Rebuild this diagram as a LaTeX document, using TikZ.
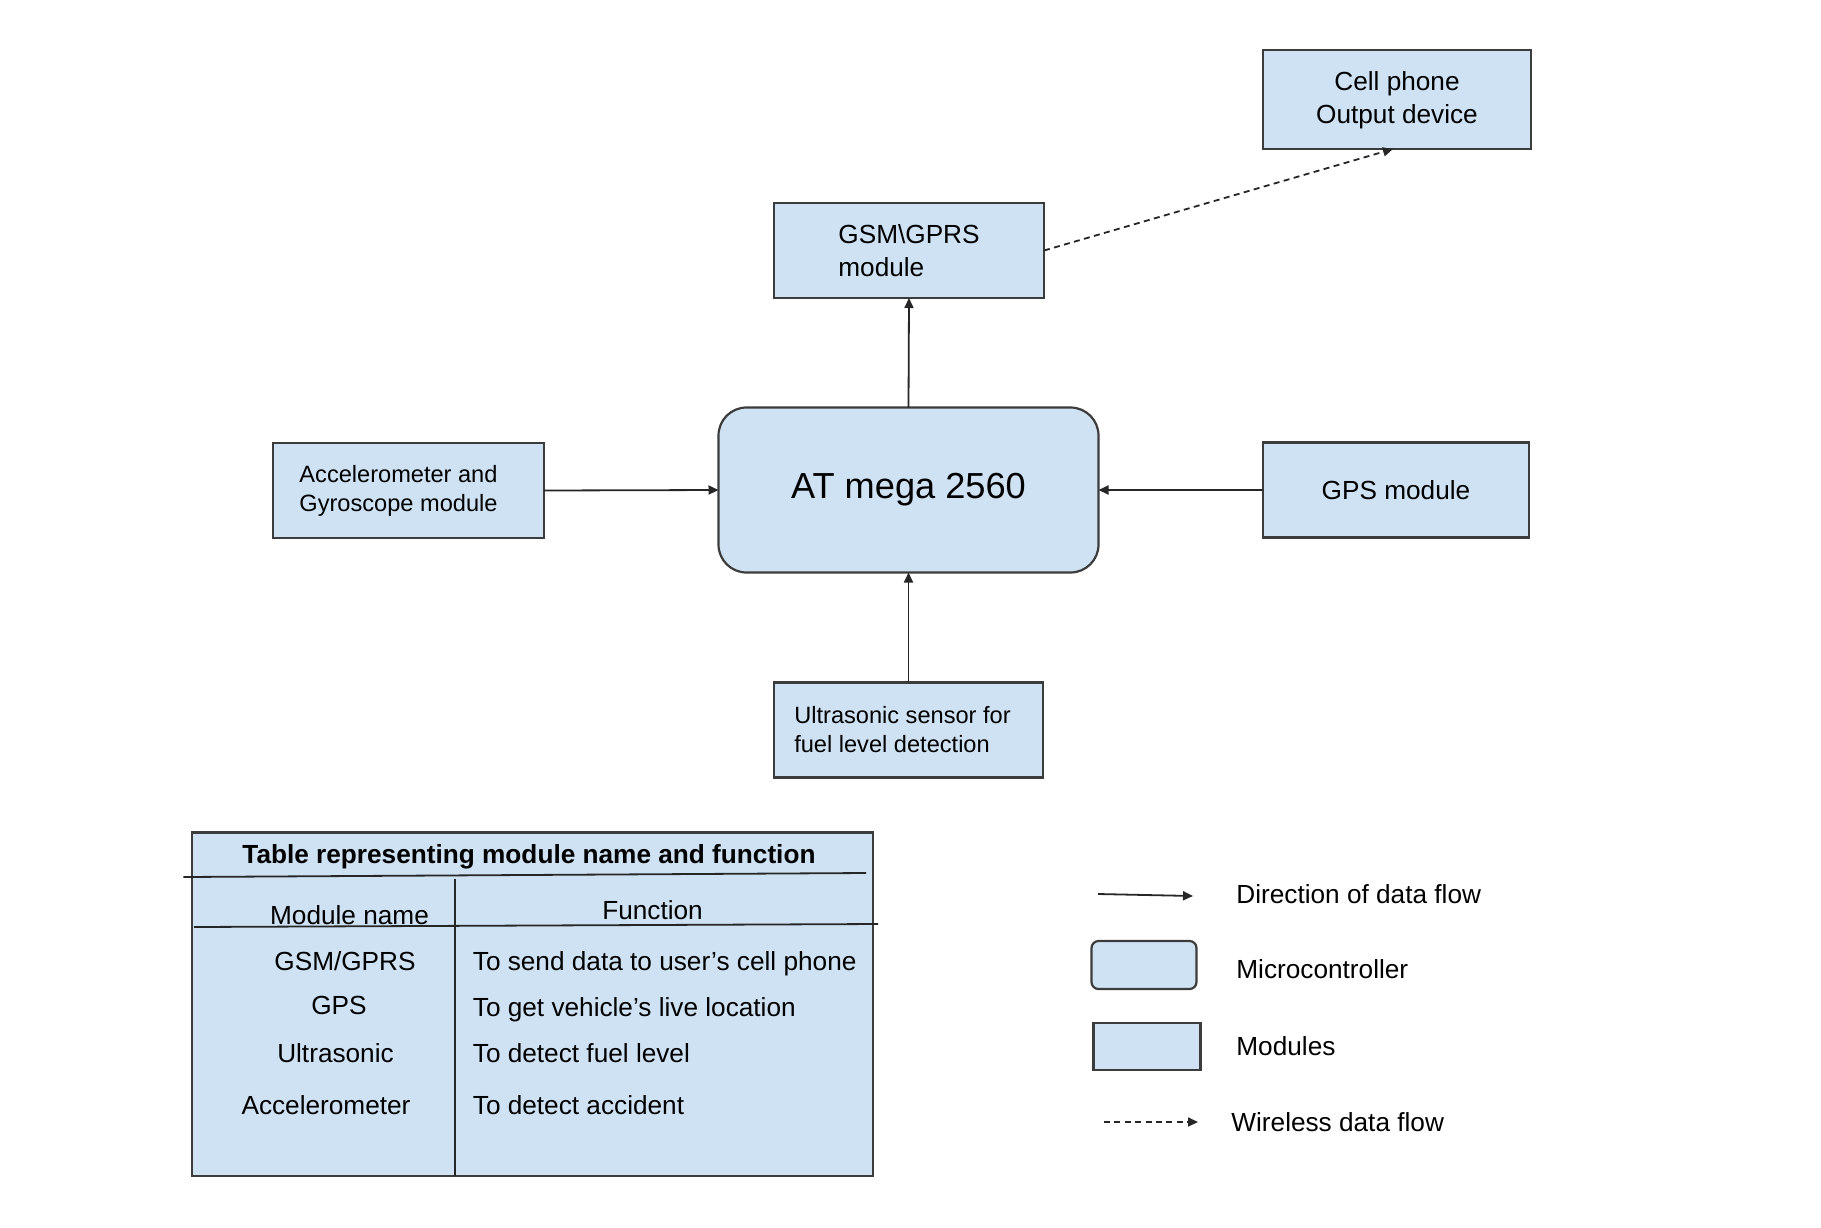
\documentclass[tikz,border=0pt]{standalone}
\usepackage{fontspec}
\setmainfont{Liberation Sans}
\usetikzlibrary{arrows.meta}
\definecolor{boxfill}{RGB}{207,226,243}
\definecolor{boxline}{RGB}{60,60,60}
\begin{document}
\begin{tikzpicture}[x=0.5pt,y=-0.5pt,
  modbox/.style={draw=boxline,fill=boxfill,line width=1.1pt,inner sep=0pt,outer sep=0pt,align=left,
    font=\fontsize{13.1}{16.5}\selectfont},
  smallbox/.style={modbox,font=\fontsize{11.8}{14.5}\selectfont},
  mcubox/.style={modbox,rounded corners=14pt,align=center,font=\fontsize{18.1}{22}\selectfont},
  flow/.style={draw=black!85,line width=0.9pt,-{Triangle[length=5pt,width=4.5pt]}},
  wireless/.style={draw=black!85,line width=0.9pt,dash pattern=on 3pt off 2.2pt,-{Triangle[length=5pt,width=4.5pt]}},
  rulel/.style={draw=black!85,line width=0.9pt},
  txt/.style={inner sep=0pt,font=\fontsize{13.1}{16.5}\selectfont},
]
\useasboundingbox (0,0) rectangle (1821,1227);

% main blocks
\node[modbox,align=center,minimum width=134pt,minimum height=49.5pt] (cell) at (1397,99.5) {\rule{0pt}{10pt}Cell phone\\Output device};
\node[modbox,minimum width=135pt,minimum height=47.5pt] (gsm) at (909,250.5) {GSM\textbackslash GPRS\\module};
\node[mcubox,minimum width=190pt,minimum height=82.5pt] (mcu) at (908.5,490) {AT mega 2560};
\node[smallbox,minimum width=135.5pt,minimum height=47.5pt] (acc) at (408.5,490.5) {Accelerometer and\hspace*{10pt}\\Gyroscope module};
\node[modbox,align=center,minimum width=133pt,minimum height=47.5pt] (gps) at (1396,490) {GPS module};
\node[smallbox,minimum width=134.5pt,minimum height=47.5pt] (ultra) at (908.5,730) {Ultrasonic sensor for\hspace*{6pt}\\fuel level detection};

% connectors
\draw[flow] (mcu.north) -- (gsm.south);
\draw[flow] (acc.east) -- (mcu.west);
\draw[flow] (gps.west) -- (mcu.east);
\draw[flow] (ultra.north) -- (mcu.south);
\draw[wireless] (gsm.east) -- ([xshift=-2pt]cell.south);

% table
\node[draw=boxline,fill=boxfill,line width=1.1pt,inner sep=0pt,outer sep=0pt,minimum width=340.7pt,minimum height=171.8pt] (tbl) at (532.3,1004.2) {};
\coordinate (t1a) at (183.4,877);
\coordinate (t1b) at (866,873);
\coordinate (t2a) at (194,927);
\coordinate (t2b) at (878,924);
\coordinate (tva) at (455,879);
\coordinate (tvb) at (455,1176);
\draw[rulel] (t1a) -- (t1b);
\draw[rulel] (t2a) -- (t2b);
\draw[rulel] (tva) -- (tvb);

\node[txt,anchor=mid,font=\fontsize{13.1}{16}\selectfont\bfseries] (ttitle) at (529,858) {Table representing module name and function};
\node[txt,anchor=mid] (hmod) at (349.5,919) {Module name};
\node[txt,anchor=mid] (hfun) at (652.5,914) {Function};
\node[txt,anchor=mid] (r1a) at (345,965) {GSM/GPRS};
\node[txt,anchor=mid] (r2a) at (339,1009) {GPS};
\node[txt,anchor=mid] (r3a) at (335.5,1057) {Ultrasonic};
\node[txt,anchor=mid] (r4a) at (326,1109) {Accelerometer};
\node[txt,anchor=mid west] (r1b) at (472.5,965) {To send data to user’s cell phone};
\node[txt,anchor=mid west] (r2b) at (472.5,1011) {To get vehicle’s live location};
\node[txt,anchor=mid west] (r3b) at (472.5,1057) {To detect fuel level};
\node[txt,anchor=mid west] (r4b) at (472.5,1109) {To detect accident};

% legend
\coordinate (la1) at (1098,894);
\coordinate (la2) at (1193,896);
\draw[flow] (la1) -- (la2);
\node[txt,anchor=mid west] (l1) at (1236,898) {Direction of data flow};
\node[modbox,rounded corners=3.5pt,minimum width=52.5pt,minimum height=24pt] (lmcu) at (1144,965) {};
\node[txt,anchor=mid west] (l2) at (1236,973) {Microcontroller};
\node[modbox,minimum width=53.5pt,minimum height=23.5pt] (lmod) at (1147,1046.5) {};
\node[txt,anchor=mid west] (l3) at (1236,1050) {Modules};
\coordinate (lw1) at (1104,1122);
\coordinate (lw2) at (1198,1122);
\draw[wireless] (lw1) -- (lw2);
\node[txt,anchor=mid west] (l4) at (1231,1126) {Wireless data flow};
\end{tikzpicture}
\end{document}
